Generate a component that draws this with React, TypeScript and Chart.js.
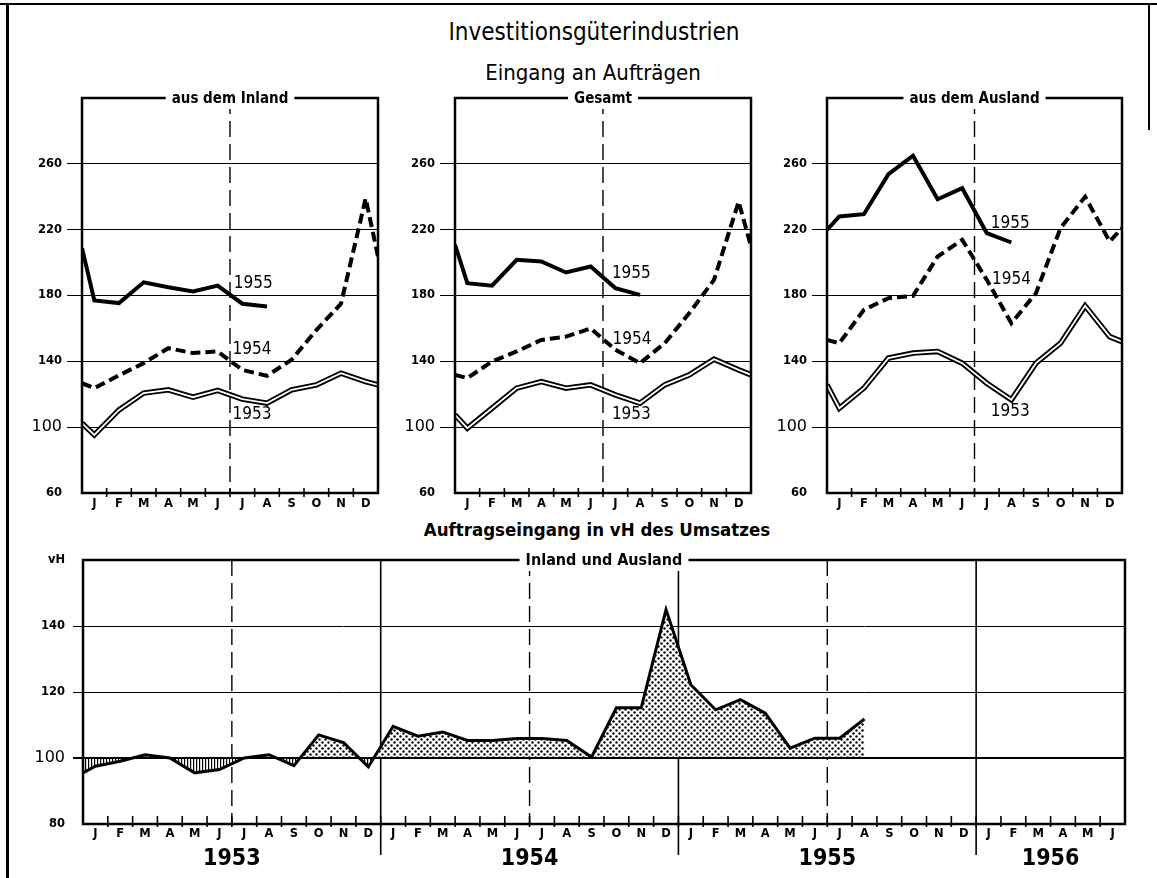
import React, { useEffect, useRef } from 'react';
import { Chart, registerables } from 'chart.js';

Chart.register(...registerables);

const W = 1157;
const H = 878;
const FONT = "'DejaVu Sans Condensed', 'Liberation Sans Narrow', 'DejaVu Sans', sans-serif";
const FONT_WIDE = "'DejaVu Sans', sans-serif";

// ---------------- data ----------------
const monthLabels = ['J', 'F', 'M', 'A', 'M', 'J', 'J', 'A', 'S', 'O', 'N', 'D'];
const panelYTicks = [60, 100, 140, 180, 220, 260];
const vhYTicks = [80, 100, 120, 140, 160];
const seriesYears = ['1953', '1954', '1955'];
const vhYears = ['1953', '1954', '1955', '1956'];

// Eingang an Aufträgen – aus dem Inland
const inland1953 = [95.3, 110.5, 120.7, 122.7, 118.2, 122.3, 117, 114.6, 122.7, 125.7, 132.8, 127.7];
const inland1953Ends = [102.4, 125.7];
const inland1954 = [123.7, 131.5, 138.9, 148, 145, 146, 134.8, 131.2, 141, 159, 175, 239];
const inland1954Ends = [126.7, 203.7];
const inland1955 = [177, 175.4, 188, 185, 182.4, 186, 175, 173.3];
const inland1955Start = 208.8;
const inlandLabelAt = [[6.1, 107.5], [6.1, 147.4], [6.15, 187]];

// Gesamt
const gesamt1953 = [99.4, 111.5, 123.7, 127.7, 123.7, 125.7, 119.6, 114.6, 125.7, 131.8, 141.3, 134.8];
const gesamt1953Ends = [107.5, 131.8];
const gesamt1954 = [129.8, 139.9, 146, 153, 155, 160, 147, 138.9, 151, 169.3, 189.5, 237];
const gesamt1954Ends = [131.8, 209.8];
const gesamt1955 = [187.5, 186, 201.7, 200.7, 194, 197.6, 184.5, 180.4];
const gesamt1955Start = 210.8;
const gesamtLabelAt = [[6.36, 107.5], [6.39, 153.5], [6.36, 193.6]];

// aus dem Ausland
const ausland1953 = [111.5, 123.7, 142, 145, 146, 138.9, 126.7, 116.6, 138.9, 151, 173.7, 155];
const ausland1953Ends = [125.7, 152];
const ausland1954 = [151, 171.3, 178.4, 179.8, 203.7, 213.8, 189.5, 163.2, 181.4, 221, 240, 212.8];
const ausland1954Ends = [153, 221];
const ausland1955 = [228, 229.4, 253.7, 264.9, 238.5, 245.2, 217.9, 212.2];
const ausland1955Start = 219.9;
const auslandLabelAt = [[6.66, 109.5], [6.71, 189.5], [6.66, 224]];

// Auftragseingang in vH des Umsatzes – Inland und Ausland
const vhStart = 95.5;
const vh1953 = [97.5, 99, 101, 100, 95.5, 96.5, 100, 101, 97.7, 107, 104.7, 97.3];
const vh1954 = [109.6, 106.6, 107.9, 105.3, 105.3, 105.9, 105.9, 105.3, 100.3, 115.2, 115.2, 145];
const vh1955 = [122.2, 114.6, 117.7, 113.6, 103, 106, 106, 111.8];
const vhMonthCount = 42; // Jan 1953 – Jun 1956
const vhBase = 100;

// ---------------- layout ----------------
const Y_W = 60;
const X_H = 22;
const AREA_INLAND = { left: 82, top: 98, right: 378, bottom: 493 };
const AREA_GESAMT = { left: 455, top: 98, right: 751, bottom: 493 };
const AREA_AUSLAND = { left: 827, top: 98, right: 1122, bottom: 493 };
const AREA_VH = { left: 83, top: 560, right: 1125, bottom: 824 };

function series(start: number, values: number[], end?: number) {
  const pts: { x: number; y: number }[] = [{ x: 0, y: start }];
  values.forEach((v, i) => pts.push({ x: i + 0.5, y: v }));
  if (end !== undefined) pts.push({ x: monthLabels.length, y: end });
  return pts;
}

function padFor(a: any) {
  return { left: a.left - Y_W, top: a.top, right: W - a.right, bottom: H - a.bottom - X_H };
}

function drawFrame(ctx: CanvasRenderingContext2D, a: any, title: string, size: number) {
  ctx.save();
  ctx.strokeStyle = '#000';
  ctx.lineWidth = 2.5;
  ctx.setLineDash([]);
  ctx.strokeRect(a.left, a.top, a.right - a.left, a.bottom - a.top);
  ctx.font = `bold ${size}px ${FONT}`;
  const tw = ctx.measureText(title).width;
  const cx = (a.left + a.right) / 2;
  ctx.fillStyle = '#fff';
  ctx.fillRect(cx - tw / 2 - 6, a.top - 10, tw + 12, 21);
  ctx.fillStyle = '#000';
  ctx.textAlign = 'center';
  ctx.textBaseline = 'middle';
  ctx.fillText(title, cx, a.top + 1);
  ctx.restore();
}

function drawTicks(ctx: CanvasRenderingContext2D, xs: any, a: any, n: number, up: number, down: number) {
  ctx.save();
  ctx.strokeStyle = '#000';
  ctx.lineWidth = 1.6;
  for (let i = 1; i < n; i++) {
    const px = xs.getPixelForValue(i);
    ctx.beginPath();
    ctx.moveTo(px, a.bottom - up);
    ctx.lineTo(px, a.bottom + down);
    ctx.stroke();
  }
  ctx.restore();
}

function yTickFont(c: any) {
  return c.tick && c.tick.value === 100
    ? { family: FONT_WIDE, size: 16, weight: 'normal' }
    : { family: FONT_WIDE, size: 11.5, weight: 'bold' };
}

const monthFont = { family: FONT_WIDE, size: 11.5, weight: 'bold' };

function panelConfig(p: any): any {
  const d53 = series(p.v53Ends[0], p.v53, p.v53Ends[1]);
  const d54 = series(p.v54Ends[0], p.v54, p.v54Ends[1]);
  const d55 = series(p.v55Start, p.v55);
  const base = {
    pointRadius: 0,
    pointHoverRadius: 0,
    tension: 0,
    fill: false,
    borderJoinStyle: 'miter',
    borderCapStyle: 'butt',
  };
  const plugin = {
    id: 'panelDecor',
    beforeDatasetsDraw(chart: any) {
      const { ctx, chartArea: a, scales } = chart;
      const px = scales.x.getPixelForValue(monthLabels.length / 2);
      ctx.save();
      ctx.strokeStyle = '#000';
      ctx.lineWidth = 1.4;
      ctx.setLineDash([16, 7]);
      ctx.beginPath();
      ctx.moveTo(px, a.top);
      ctx.lineTo(px, a.bottom);
      ctx.stroke();
      ctx.restore();
    },
    afterDraw(chart: any) {
      const { ctx, chartArea: a, scales } = chart;
      drawFrame(ctx, a, p.title, 15);
      drawTicks(ctx, scales.x, a, monthLabels.length, 5, 4);
      ctx.save();
      ctx.fillStyle = '#000';
      ctx.font = `17px ${FONT}`;
      ctx.textAlign = 'left';
      ctx.textBaseline = 'middle';
      p.labelAt.forEach((pos: number[], i: number) => {
        ctx.fillText(seriesYears[i], scales.x.getPixelForValue(pos[0]), scales.y.getPixelForValue(pos[1]));
      });
      ctx.restore();
    },
  };
  return {
    type: 'line',
    data: {
      datasets: [
        { ...base, label: '1953 innen', data: d53, borderColor: '#fff', borderWidth: 1.8, order: 0 },
        { ...base, label: '1954', data: d54, borderColor: '#000', borderWidth: 4, borderDash: [10, 5], order: 0 },
        { ...base, label: '1955', data: d55, borderColor: '#000', borderWidth: 4, order: 0 },
        { ...base, label: '1953', data: d53, borderColor: '#000', borderWidth: 5.5, order: 1 },
      ],
    },
    options: {
      responsive: false,
      animation: false,
      events: [],
      layout: { padding: padFor(p.area) },
      plugins: { legend: { display: false }, tooltip: { enabled: false }, title: { display: false } },
      scales: {
        x: {
          type: 'linear',
          min: 0,
          max: monthLabels.length,
          border: { display: false },
          grid: { display: false, drawTicks: false },
          afterBuildTicks: (s: any) => {
            s.ticks = monthLabels.map((_, i) => ({ value: i + 0.5 }));
          },
          afterFit: (s: any) => {
            s.height = X_H;
          },
          ticks: {
            autoSkip: false,
            maxRotation: 0,
            padding: 4,
            color: '#000',
            font: monthFont,
            callback: (_v: any, i: number) => monthLabels[i],
          },
        },
        y: {
          type: 'linear',
          min: 60,
          max: 300,
          border: { display: false },
          afterBuildTicks: (s: any) => {
            s.ticks = panelYTicks.map((v) => ({ value: v }));
          },
          afterFit: (s: any) => {
            s.width = Y_W;
          },
          grid: {
            color: (c: any) => (c.tick && c.tick.value === 60 ? 'rgba(0,0,0,0)' : '#000'),
            lineWidth: 1,
            drawTicks: true,
            tickLength: 15,
          },
          ticks: {
            padding: 5,
            color: '#000',
            font: yTickFont,
            callback: (v: any) => String(v),
          },
        },
      },
    },
    plugins: [plugin],
  };
}

function vhConfig(dots: any, hatch: any): any {
  const values = [...vh1953, ...vh1954, ...vh1955];
  const data = [{ x: 0, y: vhStart }, ...values.map((v, i) => ({ x: i + 0.5, y: v }))];
  const labels = Array.from({ length: vhMonthCount }, (_, i) => monthLabels[i % 12]);
  const plugin = {
    id: 'vhDecor',
    beforeDatasetsDraw(chart: any) {
      const { ctx, chartArea: a, scales } = chart;
      ctx.save();
      ctx.strokeStyle = '#000';
      ctx.lineWidth = 1.4;
      ctx.setLineDash([16, 7]);
      for (let m = 6; m < vhMonthCount; m += 12) {
        if (m + 6 > vhMonthCount) break;
        const px = scales.x.getPixelForValue(m);
        ctx.beginPath();
        ctx.moveTo(px, a.top);
        ctx.lineTo(px, a.bottom);
        ctx.stroke();
      }
      ctx.setLineDash([]);
      ctx.lineWidth = 1.6;
      for (let m = 12; m < vhMonthCount; m += 12) {
        const px = scales.x.getPixelForValue(m);
        ctx.beginPath();
        ctx.moveTo(px, a.top);
        ctx.lineTo(px, a.bottom + 31);
        ctx.stroke();
      }
      ctx.restore();
    },
    afterDatasetsDraw(chart: any) {
      const { ctx, chartArea: a, scales } = chart;
      const py = scales.y.getPixelForValue(vhBase);
      ctx.save();
      ctx.strokeStyle = '#000';
      ctx.lineWidth = 2.2;
      ctx.beginPath();
      ctx.moveTo(a.left, py);
      ctx.lineTo(a.right, py);
      ctx.stroke();
      ctx.restore();
    },
    afterDraw(chart: any) {
      const { ctx, chartArea: a, scales } = chart;
      drawFrame(ctx, a, 'Inland und Ausland', 16);
      drawTicks(ctx, scales.x, a, vhMonthCount, 8, 3);
      ctx.save();
      ctx.fillStyle = '#000';
      ctx.font = `bold 23px ${FONT}`;
      ctx.textAlign = 'center';
      ctx.textBaseline = 'middle';
      vhYears.forEach((yr, k) => {
        const s = k * 12;
        const e = Math.min(s + 12, vhMonthCount);
        ctx.fillText(yr, scales.x.getPixelForValue((s + e) / 2), a.bottom + 35);
      });
      ctx.restore();
    },
  };
  return {
    type: 'line',
    data: {
      datasets: [
        {
          label: 'Auftragseingang in vH des Umsatzes',
          data,
          borderColor: '#000',
          borderWidth: 3,
          pointRadius: 0,
          pointHoverRadius: 0,
          tension: 0,
          borderJoinStyle: 'miter',
          fill: { target: { value: vhBase }, above: dots, below: hatch },
        },
      ],
    },
    options: {
      responsive: false,
      animation: false,
      events: [],
      layout: { padding: padFor(AREA_VH) },
      plugins: { legend: { display: false }, tooltip: { enabled: false }, title: { display: false } },
      scales: {
        x: {
          type: 'linear',
          min: 0,
          max: vhMonthCount,
          border: { display: false },
          grid: { display: false, drawTicks: false },
          afterBuildTicks: (s: any) => {
            s.ticks = labels.map((_, i) => ({ value: i + 0.5 }));
          },
          afterFit: (s: any) => {
            s.height = X_H;
          },
          ticks: {
            autoSkip: false,
            maxRotation: 0,
            padding: 3,
            color: '#000',
            font: monthFont,
            callback: (_v: any, i: number) => labels[i],
          },
        },
        y: {
          type: 'linear',
          min: 80,
          max: 160,
          border: { display: false },
          afterBuildTicks: (s: any) => {
            s.ticks = vhYTicks.map((v) => ({ value: v }));
          },
          afterFit: (s: any) => {
            s.width = Y_W;
          },
          grid: {
            color: (c: any) =>
              c.tick && (c.tick.value === 80 || c.tick.value === 160) ? 'rgba(0,0,0,0)' : '#000',
            lineWidth: (c: any) => (c.tick && c.tick.value === 100 ? 2 : 1),
            drawTicks: true,
            tickLength: 10,
          },
          ticks: {
            padding: 8,
            color: '#000',
            font: yTickFont,
            callback: (v: any) => (v === 160 ? 'vH' : String(v)),
          },
        },
      },
    },
    plugins: [plugin],
  };
}

function makeDots() {
  const c = document.createElement('canvas');
  c.width = 6;
  c.height = 6;
  const g = c.getContext('2d') as CanvasRenderingContext2D;
  g.fillStyle = '#fff';
  g.fillRect(0, 0, 6, 6);
  g.fillStyle = '#000';
  [[1.5, 1.5], [4.5, 4.5]].forEach(([x, y]) => {
    g.beginPath();
    g.arc(x, y, 1.2, 0, Math.PI * 2);
    g.fill();
  });
  return g.createPattern(c, 'repeat');
}

function makeHatch() {
  const c = document.createElement('canvas');
  c.width = 3;
  c.height = 3;
  const g = c.getContext('2d') as CanvasRenderingContext2D;
  g.fillStyle = '#fff';
  g.fillRect(0, 0, 3, 3);
  g.fillStyle = '#000';
  g.fillRect(1, 0, 1.2, 3);
  return g.createPattern(c, 'repeat');
}

const panels = [
  {
    title: 'aus dem Inland',
    area: AREA_INLAND,
    v53: inland1953, v53Ends: inland1953Ends,
    v54: inland1954, v54Ends: inland1954Ends,
    v55: inland1955, v55Start: inland1955Start,
    labelAt: inlandLabelAt,
  },
  {
    title: 'Gesamt',
    area: AREA_GESAMT,
    v53: gesamt1953, v53Ends: gesamt1953Ends,
    v54: gesamt1954, v54Ends: gesamt1954Ends,
    v55: gesamt1955, v55Start: gesamt1955Start,
    labelAt: gesamtLabelAt,
  },
  {
    title: 'aus dem Ausland',
    area: AREA_AUSLAND,
    v53: ausland1953, v53Ends: ausland1953Ends,
    v54: ausland1954, v54Ends: ausland1954Ends,
    v55: ausland1955, v55Start: ausland1955Start,
    labelAt: auslandLabelAt,
  },
];

const canvasStyle: React.CSSProperties = { position: 'absolute', left: 0, top: 0, width: W, height: H };

function Text({ children, cx, cy, size, bold }: any) {
  return (
    <div
      style={{
        position: 'absolute',
        left: cx - 400,
        width: 800,
        top: cy - size * 0.6,
        height: size * 1.2,
        lineHeight: `${size * 1.2}px`,
        textAlign: 'center',
        fontFamily: FONT,
        fontStretch: 'condensed',
        fontSize: size,
        fontWeight: bold ? 'bold' : 'normal',
        color: '#000',
        whiteSpace: 'nowrap',
      }}
    >
      {children}
    </div>
  );
}

export default function App() {
  const r1 = useRef<HTMLCanvasElement>(null);
  const r2 = useRef<HTMLCanvasElement>(null);
  const r3 = useRef<HTMLCanvasElement>(null);
  const r4 = useRef<HTMLCanvasElement>(null);

  useEffect(() => {
    const refs = [r1, r2, r3];
    const charts: Chart[] = [];
    panels.forEach((p, i) => {
      const c = refs[i].current;
      if (c) charts.push(new Chart(c, panelConfig(p)));
    });
    if (r4.current) charts.push(new Chart(r4.current, vhConfig(makeDots(), makeHatch())));
    return () => charts.forEach((c) => c.destroy());
  }, []);

  return (
    <div style={{ position: 'absolute', left: 0, top: 0, width: W, height: H, background: '#fff', overflow: 'hidden' }}>
      <div style={{ position: 'absolute', left: 0, top: 3, width: W, height: 2, background: '#000' }} />
      <div style={{ position: 'absolute', left: 6, top: 3, width: 3, height: H - 3, background: '#000' }} />
      <div style={{ position: 'absolute', left: 1148, top: 3, width: 2, height: 127, background: '#000' }} />
      <Text cx={594} cy={32} size={24}>Investitionsgüterindustrien</Text>
      <Text cx={593} cy={73} size={22}>Eingang an Aufträgen</Text>
      <Text cx={597} cy={530} size={18.5} bold>Auftragseingang in vH des Umsatzes</Text>
      <canvas ref={r1} width={W} height={H} style={canvasStyle} />
      <canvas ref={r2} width={W} height={H} style={canvasStyle} />
      <canvas ref={r3} width={W} height={H} style={canvasStyle} />
      <canvas ref={r4} width={W} height={H} style={canvasStyle} />
    </div>
  );
}
